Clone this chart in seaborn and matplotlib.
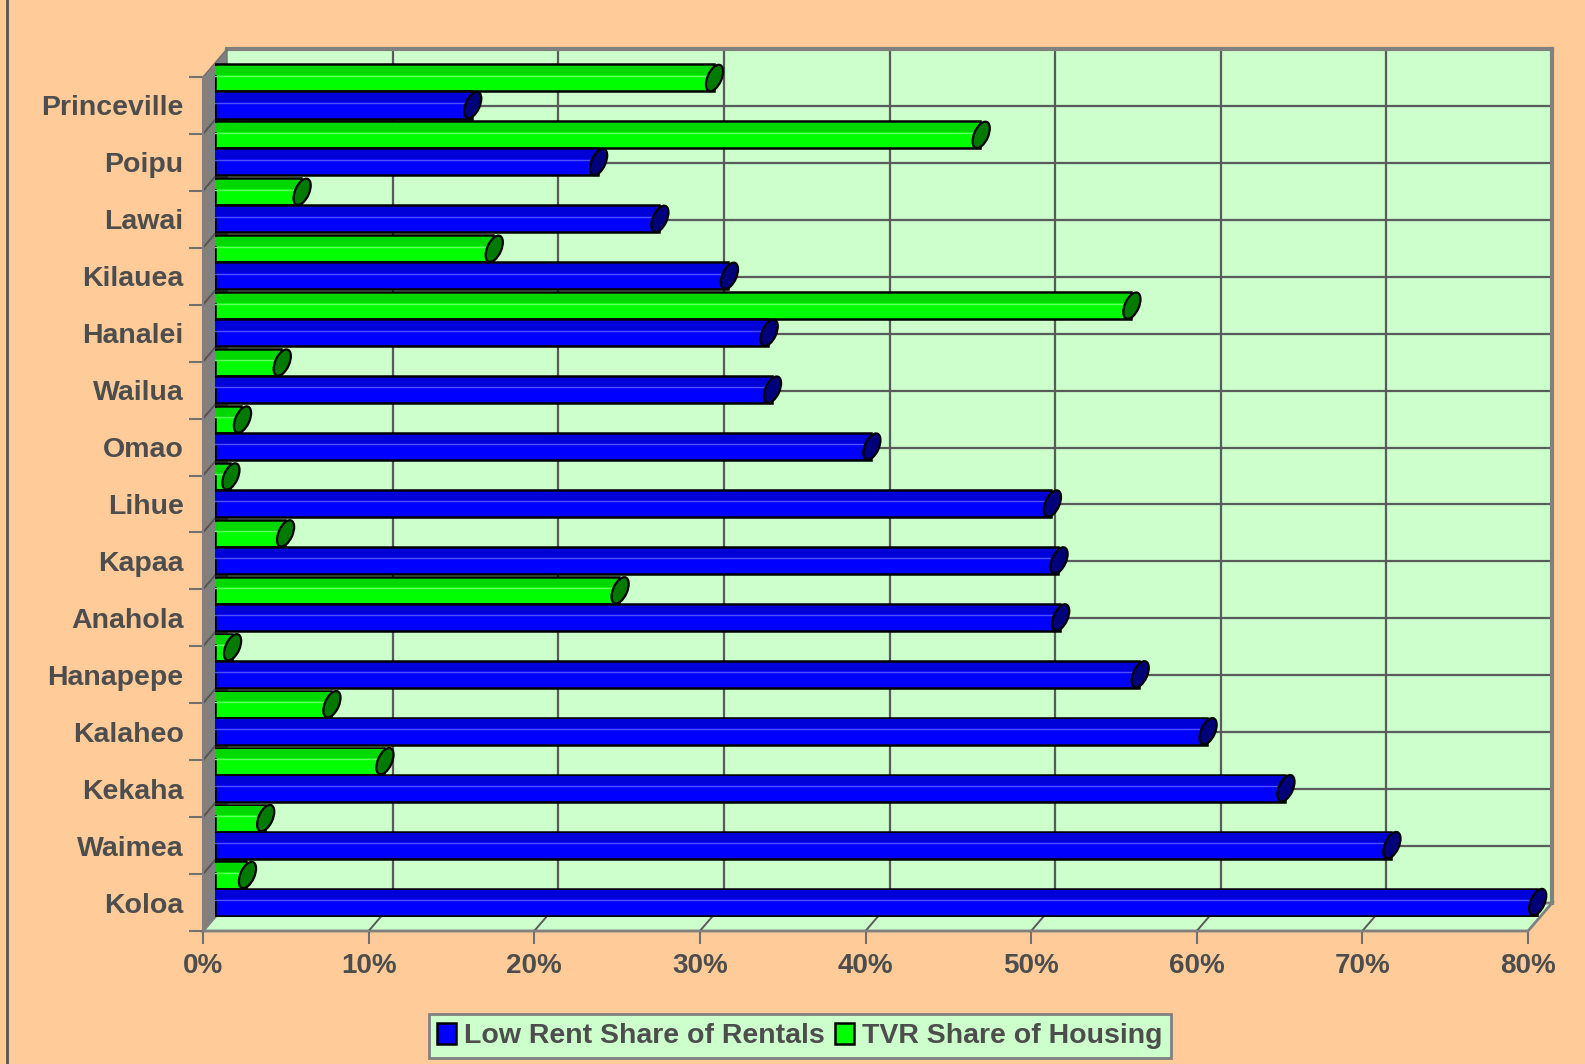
import matplotlib
matplotlib.use("Agg")
import matplotlib.pyplot as plt
import pandas as pd
import seaborn as sns
from matplotlib.patches import Polygon, Rectangle, Ellipse, Patch
from matplotlib.transforms import IdentityTransform

# ── Data ───────────────────────────────────────────────────────────────────
areas = ["Princeville", "Poipu", "Lawai", "Kilauea", "Hanalei", "Wailua", "Omao",
         "Lihue", "Kapaa", "Anahola", "Hanapepe", "Kalaheo", "Kekaha", "Waimea", "Koloa"]
low_rent = [15.5, 23.1, 26.8, 31.0, 33.4, 33.6, 39.6, 50.5, 50.9, 51.0, 55.8, 59.9, 64.6, 71.0, 79.8]
tvr = [30.1, 46.2, 5.2, 16.8, 55.3, 4.0, 1.6, 0.9, 4.2, 24.4, 1.0, 7.0, 10.2, 3.0, 1.9]
x_ticks = [0, 10, 20, 30, 40, 50, 60, 70, 80]
x_labels = ["0%", "10%", "20%", "30%", "40%", "50%", "60%", "70%", "80%"]

LOW = "Low Rent Share of Rentals"
TVR = "TVR Share of Housing"

df = pd.DataFrame({
    "area": areas * 2,
    "share": tvr + low_rent,
    "series": [TVR] * len(areas) + [LOW] * len(areas),
})

# ── Style ──────────────────────────────────────────────────────────────────
plt.rcParams["font.family"] = ["Liberation Sans", "DejaVu Sans"]
plt.rcParams["font.weight"] = "bold"
TXT = "#4D4D4D"
BG = "#FFCC99"
WALL = "#CCFFCC"
GRID = "#5A5A5A"
EDGE_GRAY = "#808080"

W, H = 1585, 1064
FX0, FY0, FX1, FY1 = 203, 77, 1528, 931     # front plane (pixels, y down)
DX, DY = 24, -28                             # depth offset to back wall
XMAX = 80
n = len(areas)


def frac(x0, y0, x1, y1):
    return [x0 / W, 1 - y1 / H, (x1 - x0) / W, (y1 - y0) / H]


fig = plt.figure(figsize=(W / 100, H / 100), dpi=100, facecolor=BG)

# ── Back wall with grid ────────────────────────────────────────────────────
ax_back = fig.add_axes(frac(FX0 + DX, FY0 + DY, FX1 + DX, FY1 + DY), zorder=0)
ax_back.set_facecolor(WALL)
ax_back.set_xlim(0, XMAX)
ax_back.set_ylim(n - 0.5, -0.5)
for v in x_ticks[1:-1]:
    ax_back.axvline(v, color=GRID, lw=1.6)
for k in range(n - 1):
    ax_back.axhline(k + 0.5, color=GRID, lw=1.6)
ax_back.set_xticks([]); ax_back.set_yticks([])
for s in ["left", "bottom"]:
    ax_back.spines[s].set_visible(False)
for s in ["top", "right"]:
    ax_back.spines[s].set_color(EDGE_GRAY)
    ax_back.spines[s].set_linewidth(3)

# ── Side wall, floor, frame line ───────────────────────────────────────────
ax_geo = fig.add_axes([0, 0, 1, 1], zorder=1)
ax_geo.set_xlim(0, W); ax_geo.set_ylim(H, 0)
ax_geo.set_axis_off()
ax_geo.add_patch(Polygon([(FX0, FY0), (FX0 + DX, FY0 + DY), (FX0 + DX, FY1 + DY), (FX0, FY1)],
                         closed=True, fc="#808080", ec="#707070", lw=1))
step = (FY1 - FY0) / n
for k in range(1, n):
    y = FY0 + k * step
    ax_geo.plot([FX0, FX0 + DX], [y, y + DY], color="#555555", lw=1.4)
ax_geo.add_patch(Polygon([(FX0, FY1), (FX0 + DX, FY1 + DY), (FX1 + DX, FY1 + DY), (FX1, FY1)],
                         closed=True, fc=WALL, ec=EDGE_GRAY, lw=2))
for v in x_ticks[1:-1]:
    xf = FX0 + v / XMAX * (FX1 - FX0)
    ax_geo.plot([xf, xf + DX], [FY1, FY1 + DY], color=GRID, lw=1.4)
ax_geo.plot([7, 7], [0, H], color="#555555", lw=2)

# ── Front plane: ticks and labels ──────────────────────────────────────────
ax_front = fig.add_axes(frac(FX0, FY0, FX1, FY1), zorder=2)
ax_front.set_facecolor("none")
ax_front.set_xlim(0, XMAX)
ax_front.set_ylim(n - 0.5, -0.5)
ax_front.set_yticks(range(n))
ax_front.set_yticklabels(areas, fontsize=20.5, fontweight="bold", color=TXT)
ax_front.set_yticks([k - 0.5 for k in range(n + 1)], minor=True)
ax_front.tick_params(axis="y", which="major", length=0, pad=14)
ax_front.tick_params(axis="y", which="minor", length=10, width=1.5, color="#707070")
ax_front.set_xticks(x_ticks)
ax_front.set_xticklabels(x_labels, fontsize=20, fontweight="bold", color=TXT)
ax_front.tick_params(axis="x", length=9, width=1.5, color="#707070", pad=7)
for s in ["top", "right"]:
    ax_front.spines[s].set_visible(False)
for s in ["left", "bottom"]:
    ax_front.spines[s].set_color(EDGE_GRAY)
    ax_front.spines[s].set_linewidth(1.5)

# ── Bars (mid depth) ───────────────────────────────────────────────────────
ax = fig.add_axes(frac(FX0 + DX / 2, FY0 + DY / 2, FX1 + DX / 2, FY1 + DY / 2), zorder=3)
ax.set_facecolor("none")
sns.barplot(data=df, x="share", y="area", hue="series", hue_order=[TVR, LOW],
            palette={TVR: "#00FF00", LOW: "#0000FF"}, width=0.95, order=areas,
            saturation=1, edgecolor="black", linewidth=1.8, legend=False, ax=ax)
ax.set_xlim(0, XMAX)
ax.set_ylim(n - 0.5, -0.5)
ax.set_axis_off()

shades = {"green": ("#00D800", "#60FF60", "#007A00"),
          "blue": ("#0000D8", "#5050FF", "#00007A")}
bars = [p for p in ax.patches if p.get_width() > 0]
for p in bars:
    r, g, b, _ = p.get_facecolor()
    top_c, line_c, cap_c = shades["green" if g > b else "blue"]
    x, y, w, h = p.get_x(), p.get_y(), p.get_width(), p.get_height()
    ax.add_patch(Rectangle((x, y + 0.03), w, h * 0.33, fc=top_c, ec="none",
                           zorder=p.get_zorder() + 0.1))
    ax.plot([x, x + w], [y + h * 0.42, y + h * 0.42], color=line_c, lw=1,
            zorder=p.get_zorder() + 0.2)
    (dx0, dy0), (dx1, dy1) = ax.transData.transform([(x, y), (x + w, y + h)])
    hh = abs(dy1 - dy0)
    fig.add_artist(Ellipse((dx1 + 1, (dy0 + dy1) / 2), width=14, height=hh * 1.04,
                           angle=-24, fc=cap_c, ec="black", lw=1.6,
                           transform=IdentityTransform(), zorder=5))

# ── Legend ─────────────────────────────────────────────────────────────────
handles = [Patch(fc="#0000FF", ec="black", lw=1.8, label=LOW),
           Patch(fc="#00FF00", ec="black", lw=1.8, label=TVR)]
leg = fig.legend(handles=handles, loc="center", bbox_to_anchor=(800 / W, 1 - 1036 / H),
                 ncol=2, frameon=True, fancybox=False, framealpha=1,
                 facecolor=WALL, edgecolor=EDGE_GRAY, labelcolor=TXT,
                 prop={"size": 20.5, "weight": "bold"},
                 handlelength=0.65, handleheight=0.75, handletextpad=0.3,
                 columnspacing=0.35, borderpad=0.3, borderaxespad=0)
leg.get_frame().set_linewidth(2)

fig.savefig("out.png", dpi=100, facecolor=fig.get_facecolor())
